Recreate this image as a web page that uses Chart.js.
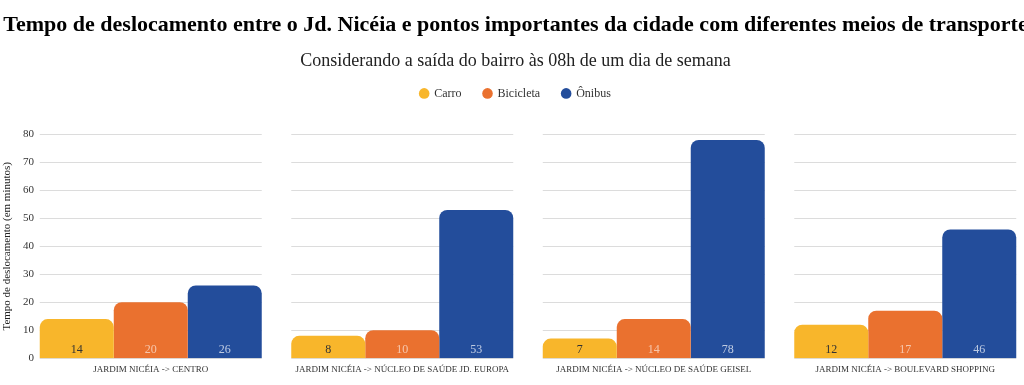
<!DOCTYPE html>
<html>
<head>
<meta charset="utf-8">
<script src="https://cdn.jsdelivr.net/npm/chart.js@4/dist/chart.umd.min.js"></script>
<style>
body{margin:0;background:#fff;overflow:hidden;}
#wrap{width:1040px;height:385px;}
</style>
</head>
<body>
<div id="wrap"><canvas id="myChart"></canvas></div>
<script>
var categorias = [
  "JARDIM NICÉIA -> CENTRO",
  "JARDIM NICÉIA -> NÚCLEO DE SAÚDE JD. EUROPA",
  "JARDIM NICÉIA -> NÚCLEO DE SAÚDE GEISEL",
  "JARDIM NICÉIA -> BOULEVARD SHOPPING"
];
var carro = [14, 8, 7, 12];
var bicicleta = [20, 10, 14, 17];
var onibus = [26, 53, 78, 46];
var eixoY = {min: 0, max: 80, passo: 10};

var serif = "'Liberation Serif', 'DejaVu Serif', serif";

// linhas de grade so dentro de cada grupo de barras
var gradePainel = {
  id: 'gradePainel',
  beforeDatasetsDraw: function(chart){
    var ctx = chart.ctx;
    var y = chart.scales.y;
    ctx.save();
    ctx.strokeStyle = '#dcdcdc';
    ctx.lineWidth = 1;
    for (var i = 0; i < chart.data.labels.length; i++) {
      var esq = Infinity, dir = -Infinity;
      for (var d = 0; d < chart.data.datasets.length; d++) {
        var bar = chart.getDatasetMeta(d).data[i];
        esq = Math.min(esq, bar.x - bar.width / 2);
        dir = Math.max(dir, bar.x + bar.width / 2);
      }
      y.ticks.forEach(function(t){
        var py = Math.round(y.getPixelForValue(t.value)) + 0.5;
        ctx.beginPath();
        ctx.moveTo(esq, py);
        ctx.lineTo(dir, py);
        ctx.stroke();
      });
    }
    ctx.restore();
  }
};

// valores escritos no pe de cada barra
var rotulos = {
  id: 'rotulos',
  afterDatasetsDraw: function(chart){
    var ctx = chart.ctx;
    ctx.save();
    ctx.font = "12px " + serif;
    ctx.textAlign = 'center';
    ctx.textBaseline = 'middle';
    chart.data.datasets.forEach(function(ds, d){
      chart.getDatasetMeta(d).data.forEach(function(bar, i){
        ctx.fillStyle = ds.corRotulo;
        ctx.fillText(ds.data[i], bar.x, bar.base - 8);
      });
    });
    ctx.restore();
  }
};

var ctx = document.getElementById('myChart').getContext('2d');
var myChart = new Chart(ctx, {
  type: 'bar',
  data: {
    labels: categorias,
    datasets: [
      {label: 'Carro', data: carro, backgroundColor: '#f8b62b', corRotulo: '#333333'},
      {label: 'Bicicleta', data: bicicleta, backgroundColor: '#ea712f', corRotulo: 'rgba(255,255,255,0.6)'},
      {label: 'Ônibus', data: onibus, backgroundColor: '#234d9b', corRotulo: 'rgba(255,255,255,0.7)'}
    ]
  },
  options: {
    responsive: true,
    maintainAspectRatio: false,
    animation: false,
    layout: {padding: {right: 9, bottom: 4}},
    datasets: {
      bar: {
        categoryPercentage: 0.8827,
        barPercentage: 1.0,
        borderRadius: {topLeft: 8, topRight: 8},
        borderSkipped: 'bottom'
      }
    },
    plugins: {
      title: {
        display: true,
        text: 'Tempo de deslocamento entre o Jd. Nicéia e pontos importantes da cidade com diferentes meios de transporte',
        color: '#000',
        font: {family: serif, size: 22, weight: 'bold', lineHeight: 1.2},
        padding: {top: 12, bottom: 0}
      },
      subtitle: {
        display: true,
        text: 'Considerando a saída do bairro às 08h de um dia de semana',
        color: '#222',
        font: {family: serif, size: 18, lineHeight: 1},
        padding: {top: 14, bottom: -5}
      },
      legend: {
        position: 'top',
        labels: {
          usePointStyle: true,
          pointStyle: 'circle',
          boxWidth: 8,
          boxHeight: 7.5,
          padding: 22,
          color: '#333',
          font: {family: serif, size: 12}
        }
      },
      tooltip: {enabled: false}
    },
    scales: {
      x: {
        grid: {display: false, drawTicks: false},
        border: {display: false},
        ticks: {
          color: '#333',
          autoSkip: false,
          maxRotation: 0,
          padding: 6,
          font: {family: serif, size: 9}
        }
      },
      xTopo: {
        type: 'category',
        position: 'top',
        grid: {display: false, drawTicks: false},
        border: {display: false},
        ticks: {display: false},
        afterFit: function(s){ s.height = 25; }
      },
      y: {
        min: eixoY.min,
        max: eixoY.max,
        grid: {display: false, drawTicks: false},
        border: {display: false},
        ticks: {
          stepSize: eixoY.passo,
          color: '#333',
          mirror: true,
          crossAlign: 'far',
          padding: -2,
          font: {family: serif, size: 11}
        },
        title: {
          display: true,
          text: 'Tempo de deslocamento (em minutos)',
          color: '#222',
          font: {family: serif, size: 11, lineHeight: 1.2},
          padding: {top: 1, bottom: 0}
        },
        afterFit: function(s){ s.width = 25; }
      }
    }
  },
  plugins: [gradePainel, rotulos]
});
</script>
</body>
</html>
